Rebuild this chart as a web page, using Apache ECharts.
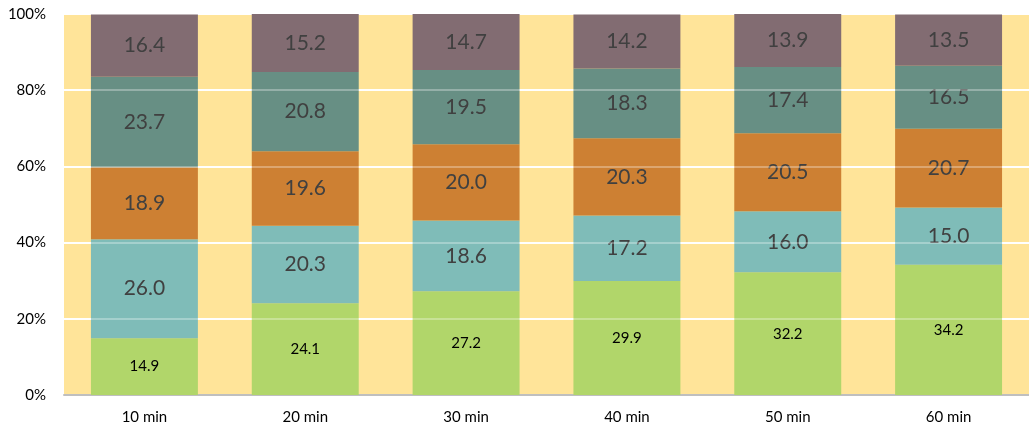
<!DOCTYPE html>
<html><head><meta charset="utf-8">
<script src="https://cdn.jsdelivr.net/npm/echarts@6/dist/echarts.min.js"></script>
<style>html,body{margin:0;padding:0;background:#fff}#c{width:1029px;height:430px}</style>
</head><body><div id="c"></div>
<script>
const categories = ['10 min','20 min','30 min','40 min','50 min','60 min'];
const s1 = [14.9,24.1,27.2,29.9,32.2,34.2];
const s2 = [26.0,20.3,18.6,17.2,16.0,15.0];
const s3 = [18.9,19.6,20.0,20.3,20.5,20.7];
const s4 = [23.7,20.8,19.5,18.3,17.4,16.5];
const s5 = [16.4,15.2,14.7,14.2,13.9,13.5];
const yTicks = [0,20,40,60,80,100];

const FONT = 'Lato';
const colors = ['#B1D66A','#7FBCB8','#CD8033','#678F84','#826C72'];
const data = [s1,s2,s3,s4,s5];
const series = data.map((d,i)=>({
  type:'bar', stack:'a', data:d, barCategoryGap:'33.5%',
  itemStyle:{color:colors[i]},
  label:{show:true, position:'inside', fontFamily:FONT,
    fontSize: i===0?15:21, color: i===0?'#000':'#404040',
    formatter: p=>p.value.toFixed(1)},
  emphasis:{disabled:true}
}));
series[4].markLine = {
  silent:true, symbol:'none', label:{show:false},
  lineStyle:{color:'rgba(255,255,255,0.3)', type:'solid', width:2},
  data: yTicks.filter(v=>v>0&&v<100).map(v=>({yAxis:v}))
};
const chart = echarts.init(document.getElementById('c'));
chart.setOption({
  animation:false,
  grid:{left:64, right:0, top:14, bottom:35, show:true, backgroundColor:'#FFE499', borderWidth:0},
  xAxis:{type:'category', data:categories,
    axisLine:{lineStyle:{color:'#BFBFBF', width:2}}, axisTick:{show:false},
    axisLabel:{fontFamily:FONT, fontSize:15, color:'#000', margin:15}},
  yAxis:{type:'value', min:0, max:100, interval:20,
    axisLine:{show:false}, axisTick:{show:false},
    splitLine:{lineStyle:{color:'#FFFFFF', width:2}},
    axisLabel:{fontFamily:FONT, fontSize:15, color:'#000', margin:18, formatter:v=>v+'%'}},
  series
});
</script></body></html>
